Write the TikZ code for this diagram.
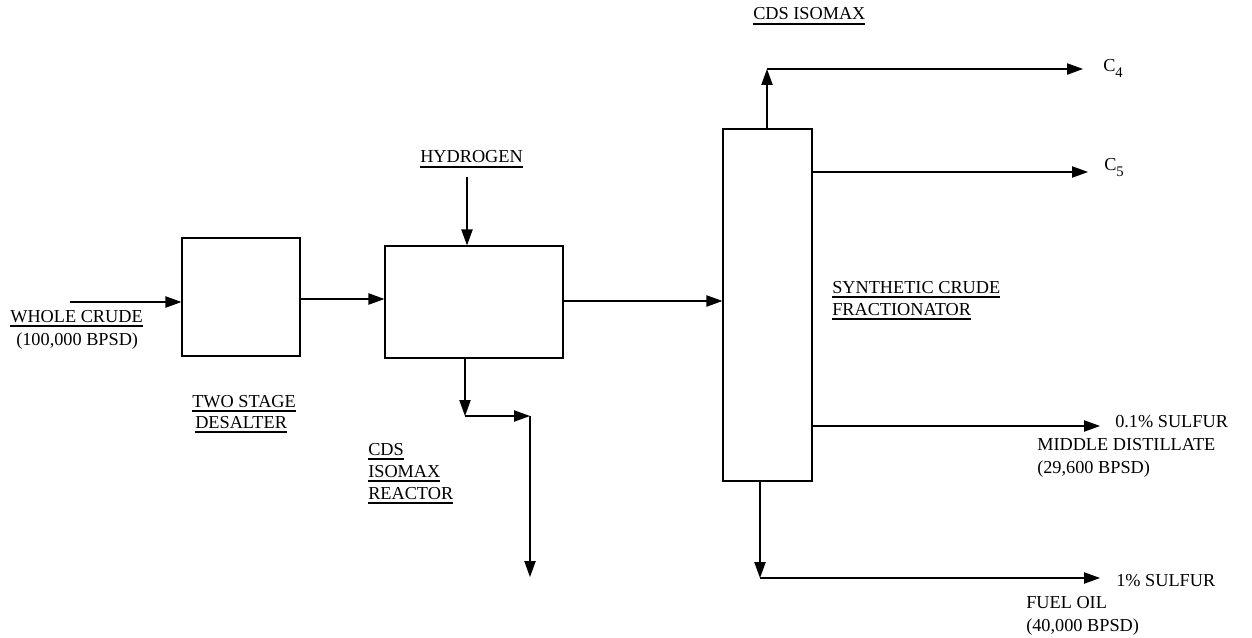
\documentclass[tikz,border=0pt]{standalone}
\usepackage{fontspec}
\setmainfont{Liberation Serif}
\usetikzlibrary{arrows.meta}
\newcommand{\ulx}[1]{\vtop{\hbox{#1}\kern2.4pt\hrule height 0.9pt}}
\newcommand{\subx}[1]{\raisebox{-4.2pt}{\fontsize{11}{11}\selectfont #1}}
\begin{document}
\begin{tikzpicture}[x=0.75pt,y=-0.75pt,
  lbl/.style={anchor=base west,inner sep=0pt,font=\fontsize{13.7}{17}\selectfont},
  unit/.style={draw,line width=0.9pt,inner sep=0pt,fill=white},
  flow/.style={line width=0.9pt,-{Triangle[length=12pt,width=8.5pt]}},
  pipe/.style={line width=0.9pt}]
\useasboundingbox (0,0) rectangle (1252,638);
% units
\node[unit,minimum width=88.5pt,minimum height=88.5pt] (desalter) at (241,297) {};
\node[unit,minimum width=133.5pt,minimum height=84pt] (reactor) at (474,302) {};
\node[unit,minimum width=66.75pt,minimum height=264pt] (frac) at (767.5,305) {};
% coordinates
\coordinate (cin) at (70,302);
\coordinate (h2) at (467,177);
\coordinate (rb) at (465,416);
\coordinate (rc) at (530,416);
\coordinate (rd) at (530,577);
\coordinate (tp) at (767,69);
\coordinate (c4) at (1083,69);
\coordinate (c5) at (1088,172);
\coordinate (md) at (1100,426);
\coordinate (fb) at (760,578);
\coordinate (fo) at (1100,578);
% connectors
\draw[flow] (cin) -- (cin -| desalter.west);
\draw[flow] (desalter.east |- 0,299) -- (reactor.west |- 0,299);
\draw[flow] (reactor.east |- 0,301) -- (frac.west |- 0,301);
\draw[flow] (h2) -- (h2 |- reactor.north);
\draw[flow] (rb |- reactor.south) -- (rb);
\draw[flow] (rb) -- (rc);
\draw[flow] (rc) -- (rd);
\draw[flow] (tp |- frac.north) -- (tp);
\draw[flow] (tp) -- (c4);
\draw[flow] (c5 -| frac.east) -- (c5);
\draw[flow] (md -| frac.east) -- (md);
\draw[flow] (fb |- frac.south) -- (fb);
\draw[flow] (fb) -- (fo);
% labels
\node[lbl] (tcds) at (753,20) {\ulx{CDS ISOMAX}};
\node[lbl] (th2) at (420,163) {\ulx{HYDROGEN}};
\node[lbl] (tcr1) at (10,322) {\ulx{WHOLE CRUDE}};
\node[lbl] (tcr2) at (16,345) {(100,000 BPSD)};
\node[lbl] (tds1) at (192,407) {\ulx{TWO STAGE}};
\node[lbl] (tds2) at (195,428) {\ulx{DESALTER}};
\node[lbl] (trx1) at (368,455) {\ulx{CDS}};
\node[lbl] (trx2) at (368,477) {\ulx{ISOMAX}};
\node[lbl] (trx3) at (368,499) {\ulx{REACTOR}};
\node[lbl] (tfr1) at (832,293) {\ulx{SYNTHETIC CRUDE}};
\node[lbl] (tfr2) at (832,315) {\ulx{FRACTIONATOR}};
\node[lbl] (tc4) at (1103,72) {C\subx{4}};
\node[lbl] (tc5) at (1104,171) {C\subx{5}};
\node[lbl] (tmd1) at (1115,427) {0.1\% SULFUR};
\node[lbl] (tmd2) at (1037,450) {MIDDLE DISTILLATE};
\node[lbl] (tmd3) at (1037,473) {(29,600 BPSD)};
\node[lbl] (tfo1) at (1116,586) {1\% SULFUR};
\node[lbl] (tfo2) at (1026,608) {FUEL OIL};
\node[lbl] (tfo3) at (1026,631) {(40,000 BPSD)};
\end{tikzpicture}
\end{document}
